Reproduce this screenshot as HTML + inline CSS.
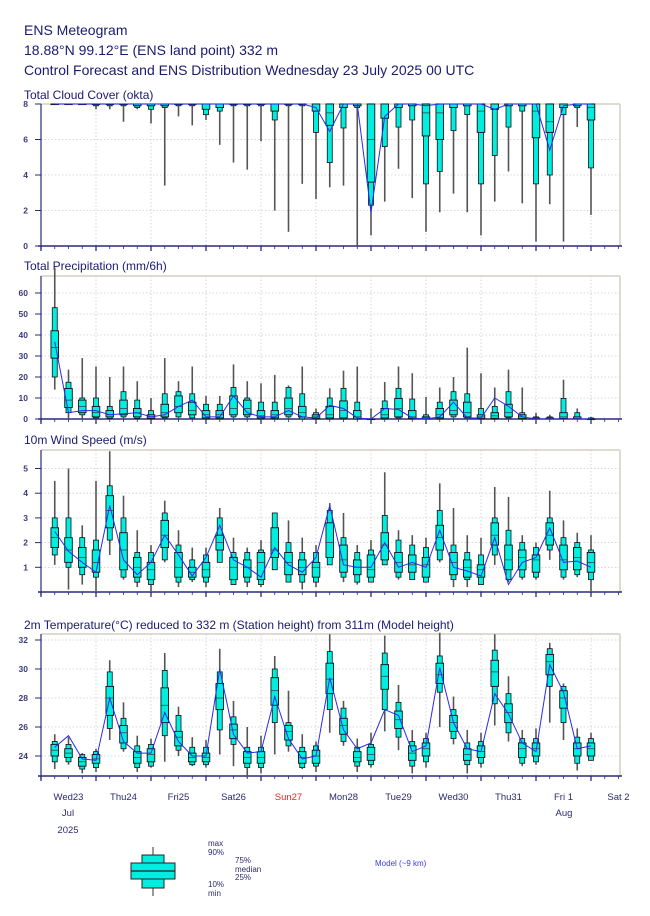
<!DOCTYPE html>
<html><head><meta charset="utf-8"><style>
body{margin:0;background:#fff;}
svg{display:block;font-family:"Liberation Sans",sans-serif;}
</style></head><body>
<svg id="c" width="650" height="916" viewBox="0 0 650 916">
<g fill="#1a1a6e" font-size="14">
<text x="24" y="35">ENS Meteogram</text>
<text x="24" y="55">18.88°N 99.12°E (ENS land point) 332 m</text>
<text x="24" y="75">Control Forecast and ENS Distribution Wednesday 23 July 2025 00 UTC</text>
</g>
<g id="panels"></g>
<g id="xlabels" font-size="9.5" fill="#2a2a6e" text-anchor="middle"></g>
<g>
<line x1="153" y1="847" x2="153" y2="896" stroke="#777" stroke-width="1.5"/>
<rect x="142" y="855" width="22" height="33" fill="#00eee0" stroke="#222" stroke-width="1"/>
<rect x="131" y="863" width="44" height="16" fill="#00eee0" stroke="#222" stroke-width="1"/>
<line x1="131" y1="871" x2="175" y2="871" stroke="#222" stroke-width="1.2"/>
<g font-size="8" fill="#2a2a6e">
<text x="208" y="846">max</text><text x="208" y="855">90%</text>
<text x="235" y="863">75%</text><text x="235" y="872">median</text><text x="235" y="880">25%</text>
<text x="208" y="887">10%</text><text x="208" y="896">min</text>
</g>
<text x="375" y="866" font-size="8" fill="#3a3af0">Model (~9 km)</text>
</g>
</svg>
<script>
const steps = Array.from({length:40},(_,i)=>i+1);
// Cloud cover
const cloudMin=[8,8,8,7.7,7.7,7.0,7.7,6.9,3.4,7.3,6.8,7.1,5.7,4.7,4.3,5.9,2.0,0.8,3.5,2.65,3.3,3.4,0,0.6,2.5,4.35,2.7,0.8,1.9,2.95,1.9,0.6,2.5,4.2,2.4,0.25,2.35,0.25,6.7,1.75];
const cloudP10=[8,8,8,7.9,7.9,7.9,7.8,7.7,7.8,7.9,7.9,7.4,7.6,7.9,7.9,7.9,7.1,7.9,7.9,6.4,4.7,6.65,7.8,2.3,5.6,6.7,7.1,3.5,4.2,6.5,7.4,3.5,5.1,6.7,7.6,3.5,4.0,7.4,7.8,4.4];
const cloudP25=[8,8,8,8,8,8,7.9,7.9,7.9,8,8,7.7,7.8,8,8,8,7.6,8,8,7.6,6.8,7.8,7.9,3.6,7.2,7.8,7.9,6.2,6.0,7.8,7.9,6.4,7.7,7.9,7.9,6.1,6.4,7.8,7.9,7.1];
const cloudMed=[8,8,8,8,8,8,8,8,8,8,8,8,8,8,8,8,8,8,8,8,7.5,8,8,6,8,8,8,7.5,7.5,8,8,7.6,8,8,8,7.6,7,8,8,7.8];
const cloudP75=steps.map(()=>8), cloudP90=steps.map(()=>8), cloudMax=steps.map(()=>8);
const cloudCtrl=[8,8,8,8,8,8,8,8,8,8,8,8,8,8,8,8,8,8,8,7.8,6.45,8,8,1.9,7.3,8,8,7.9,8,8,8,8,7.7,8,8,8,5.4,7.9,8,8];
// Precipitation
const precMin=[14,0,0,0,0,0,0,0,0,0,0,0,0,0,0,0,0,0,0,0,0,0,0,0,0,0,0,0,0,0,0,0,0,0,0,0,0,0,0,0];
const precP10=[20,3,2,0.5,0.3,1,0.3,0,0.5,1,0.5,0,0,1,1,0,0,1,0,0,0,0,0,0,0,0.5,0,0,0,1,0.5,0,0,0.5,0,0,0,0,0,0];
const precP25=[29,5.5,3,1,1,2,1,0.3,1,3,2,0.5,0.5,2,2,0.5,0.5,2,1,0.3,0.5,0.5,0,0,0.5,1,0.3,0,0.5,2,1,0.2,0.3,1,0.2,0,0,0.3,0,0];
const precMed=[34,9,6,3,2,5,3,1,3,6,4,2,2,5,5,1.5,2,5,3,1,2,4,1,0,2,5,1,0.5,2,4,3,1,1.5,3,1,0.3,0.3,1,0.3,0];
const precP75=[42,14.5,9,6,4,9,5,2,7,11,8,4,4,11,9,4,4,10,6,2,6,8.6,4,0,5,9.8,4,1,5,9,8,2,3,7,2,0.5,0.5,3,1,0];
const precP90=[53,17.5,10,10,6,13,9,4,12,13,12,7,7,15,10,8,8,15,12,3,10,14.6,8,0,8.6,14.6,9.5,2,8,13,12,5,6,13,3,1,1,9.8,3,0.5];
const precMax=[72,23.5,29,25,20,25,18,10,29,18,25,11,11,26,18,17,21,16,25,5,14.6,23,25,5,17.6,25,21.8,10.5,15,20,34,21.8,15,23.5,15,3,2,18.7,5,1];
const precCtrl=[36.7,3,4,4,2,2.5,3,1,2,6,9,1,1,11,3,1,1,4,1,0.5,6.5,5,0.5,0,5,4.5,0.5,0,1,8,0.5,0.5,10,6,1,0,0,0,0,0];
// Wind
const windMin=[1.1,0.1,0.3,0.0,1.5,0.5,0.2,0.0,1.2,0.2,0.4,0.2,1.2,0.3,0.2,0.2,1.3,0.5,0.1,0.2,1.4,0.4,0.3,0.4,1.1,0.5,0.5,0.4,1.2,0.2,0.2,0.3,1.1,0.4,0.5,0.5,1.3,0.5,0.6,0.0];
const windP10=[1.5,1.0,0.7,0.6,2.1,0.6,0.4,0.3,1.3,0.4,0.5,0.4,1.2,0.3,0.4,0.3,0.9,0.4,0.4,0.4,1.1,0.6,0.4,0.4,1.1,0.6,0.5,0.4,1.3,0.5,0.5,0.3,1.5,0.5,0.6,0.6,1.7,0.6,0.7,0.5];
const windP25=[1.8,1.2,1.0,0.8,2.6,0.9,0.6,0.5,1.8,0.6,0.6,0.6,1.7,0.5,0.6,0.5,1.4,0.7,0.7,0.6,1.4,0.8,0.7,0.6,1.3,0.8,0.8,0.6,1.7,0.7,0.6,0.6,1.9,0.9,0.9,0.8,1.9,0.9,0.9,0.8];
const windMed=[2.2,1.7,1.4,1.2,3.3,1.7,1.0,0.9,2.3,1.0,0.8,0.9,2.0,1.0,1.0,1.2,1.7,1.2,1.0,1.0,2.0,1.3,1.0,0.9,1.9,1.2,1.1,1.1,2.2,1.2,1.0,0.9,2.3,1.3,1.4,1.3,2.3,1.3,1.4,1.2];
const windP75=[2.6,2.2,1.8,1.7,3.9,2.4,1.4,1.2,2.9,1.6,1.0,1.2,2.3,1.4,1.3,1.6,2.6,1.6,1.3,1.2,2.8,1.9,1.3,1.5,2.4,1.6,1.5,1.4,2.7,1.6,1.3,1.1,2.8,1.9,1.7,1.5,2.8,1.9,1.8,1.6];
const windP90=[3.0,3.0,2.2,2.1,4.3,3.0,1.6,1.6,3.2,1.9,1.3,1.5,3.0,1.6,1.6,1.7,3.2,2.0,1.6,1.6,3.3,2.2,1.6,1.7,3.1,2.1,1.9,1.8,3.3,1.9,1.6,1.5,3.0,2.5,2.0,1.8,3.0,2.2,2.0,1.7];
const windMax=[4.5,5.0,2.7,4.5,5.7,3.9,2.5,1.9,3.7,2.5,1.8,1.8,3.4,2.2,1.8,2.1,3.0,2.9,2.2,1.9,3.6,3.2,1.9,2.1,4.85,2.5,2.3,2.2,4.4,3.4,2.3,2.2,4.25,3.85,2.3,2.0,4.1,2.9,2.4,2.3];
const windCtrl=[2.45,1.65,1.2,0.8,3.5,1.3,0.7,1.2,2.3,1.5,0.65,1.4,2.7,1.3,1.0,0.6,1.8,1.1,0.8,1.4,3.5,1.1,1.0,1.0,2.0,1.0,1.2,1.0,2.5,1.0,0.85,0.65,2.2,0.3,1.2,1.4,2.6,1.2,1.25,1.0];
// Temperature
const tMin=[23.1,23.4,22.8,22.9,25.1,24.3,22.9,23.2,23.6,24.0,23.3,23.2,24.1,23.3,22.5,22.8,24.1,24.3,23.1,22.9,25.6,24.7,22.9,23.2,25.7,24.4,22.8,23.2,26.0,24.8,22.8,23.2,26.1,25.0,23.3,23.4,26.3,25.1,23.0,23.8];
const tP10=[23.6,23.6,23.1,23.2,25.9,24.5,23.2,23.3,25.4,24.4,23.4,23.4,25.8,24.8,23.2,23.2,26.3,24.7,23.2,23.3,27.2,25.0,23.3,23.4,27.2,25.3,23.3,23.6,28.4,25.2,23.4,23.5,27.6,25.6,23.5,23.6,28.8,26.3,23.5,23.7];
const tP25=[24.0,23.9,23.3,23.5,26.8,24.9,23.5,23.6,26.3,24.7,23.6,23.6,27.2,25.2,23.5,23.5,27.5,25.1,23.5,23.5,28.3,25.5,23.6,23.7,28.6,25.9,23.7,24.0,29.0,25.7,23.7,23.9,28.8,26.3,23.9,24.0,29.6,27.3,24.0,24.0];
const tMed=[24.4,24.2,23.6,23.8,28.0,25.6,23.9,24.1,27.5,25.3,23.9,23.9,28.0,25.8,23.9,23.9,28.5,25.7,23.9,24.0,29.3,26.1,23.9,24.1,29.5,26.5,24.2,24.5,29.6,26.3,24.1,24.3,29.8,27.0,24.5,24.5,30.5,28.0,24.5,24.5];
const tP75=[24.8,24.5,23.9,24.1,28.8,26.1,24.3,24.5,28.7,25.7,24.2,24.2,29.0,26.2,24.3,24.3,29.4,26.1,24.3,24.4,30.4,26.6,24.3,24.6,30.3,27.1,24.7,24.9,30.4,26.8,24.5,24.7,30.6,27.6,24.9,24.9,31.0,28.5,24.9,24.9];
const tP90=[25.0,24.8,24.1,24.3,29.8,26.6,24.7,24.8,29.9,26.8,24.6,24.6,29.8,26.7,24.6,24.6,30.0,26.3,24.6,24.7,31.2,27.3,24.6,24.8,31.1,27.7,25.0,25.2,30.9,27.2,24.9,25.0,31.3,28.3,25.2,25.2,31.4,28.8,25.3,25.2];
const tMax=[25.5,25.3,24.2,24.5,30.6,27.7,25.4,25.2,31.1,27.4,25.3,25.1,31.4,27.8,26.0,25.4,30.9,28.5,25.5,25.0,32.4,27.8,25.2,25.6,32.3,28.9,25.8,25.6,32.5,28.1,25.8,25.6,32.4,29.5,25.8,25.9,31.8,29.0,25.9,25.6];
const tCtrl=[24.6,25.4,23.8,23.7,28.0,25.0,24.2,24.2,27.0,25.0,24.0,24.0,30.0,25.5,24.2,24.3,28.1,25.2,23.8,24.0,29.4,25.8,24.5,24.9,27.2,26.8,24.3,24.7,30.1,26.3,24.5,24.3,28.3,26.9,24.9,24.3,30.3,28.4,24.5,24.7];
const dayLabels=["Wed23","Thu24","Fri25","Sat26","Sun27","Mon28","Tue29","Wed30","Thu31","Fri 1","Sat 2"];
const cloudTicks=[0,2,4,6,8], precTicks=[0,10,20,30,40,50,60], windTicks=[1,2,3,4,5], tempTicks=[24,26,28,30,32];

const NS="http://www.w3.org/2000/svg";
const X0=41, DX=13.75, XR=620;
const xs=k=>X0+DX*k;
function el(tag,attrs,parent){const e=document.createElementNS(NS,tag);for(const a in attrs)e.setAttribute(a,attrs[a]);parent.appendChild(e);return e;}
const panels=document.getElementById('panels');
function panel(name,title,titleY,top,bottom,vmin,vmax,ticks,stats,ctrl){
  const g=el('g',{},panels);
  
  
  const y=v=>bottom-(v-vmin)/(vmax-vmin)*(bottom-top);
  const t=el('text',{x:24,y:titleY,'font-size':12,fill:'#1a1a6e'},g);
  
  
  t.textContent=title;
  // grid
  for(let d=1;d<=10;d++){el('line',{x1:X0+55*d,x2:X0+55*d,y1:top,y2:bottom,stroke:'#ccc','stroke-dasharray':'1.5,2','stroke-width':0.8},g);}
  ticks.forEach(v=>{
    el('line',{x1:X0,x2:XR,y1:y(v),y2:y(v),stroke:'#ccc','stroke-dasharray':'1.5,2','stroke-width':0.8},g);
    el('line',{x1:X0-6,x2:X0,y1:y(v),y2:y(v),stroke:'#2a2a7a','stroke-width':1},g);
    const tl=el('text',{x:X0-13,y:y(v)+3,'font-size':8.5,'font-weight':'bold',fill:'#3a3a7a','text-anchor':'end'},g);
    
    
    tl.textContent=v;
  });
  // frame
  el('line',{x1:X0,x2:XR,y1:top,y2:top,stroke:'#d4d0c4','stroke-width':1.5},g);
  el('line',{x1:XR,x2:XR,y1:top,y2:bottom,stroke:'#d4d0c4','stroke-width':1.5},g);
  el('line',{x1:X0,x2:X0,y1:top,y2:bottom+3,stroke:'#2a2a7a','stroke-width':1.2},g);
  el('line',{x1:X0-3,x2:XR+2,y1:bottom,y2:bottom,stroke:'#2a2a7a','stroke-width':1.5},g);
  for(let k=0;k<=42;k++){const maj=k%4===0;el('line',{x1:xs(k),x2:xs(k),y1:bottom,y2:bottom+(maj?5:3),stroke:'#2a2a7a','stroke-width':maj?1.3:0.8},g);}
  const [mn,p10,p25,md,p75,p90,mx]=stats;
  steps.forEach((k,i)=>{
    const x=xs(k);
    const w=el('line',{x1:x,x2:x,y1:y(mx[i]),y2:y(mn[i]),stroke:'#555','stroke-width':1.6},g);
    
    
    const nb=el('rect',{x:x-2.5,y:y(p90[i]),width:5,height:Math.max(0.6,y(p10[i])-y(p90[i])),fill:'#00eee0',stroke:'#111','stroke-width':0.8},g);
    
    
    const wb=el('rect',{x:x-3.8,y:y(p75[i]),width:7.6,height:Math.max(0.6,y(p25[i])-y(p75[i])),fill:'#00eee0',stroke:'#111','stroke-width':0.9},g);
    
    
    const ml=el('line',{x1:x-3.8,x2:x+3.8,y1:y(md[i]),y2:y(md[i]),stroke:'#333','stroke-width':0.7},g);
    
    
  });
  const pl=el('polyline',{points:steps.map((k,i)=>xs(k)+','+y(ctrl[i])).join(' '),fill:'none',stroke:'#2a2aee','stroke-width':1},g);
  
  
}
panel('cloud','Total Cloud Cover (okta)',99,104,246,0,8,cloudTicks,[cloudMin,cloudP10,cloudP25,cloudMed,cloudP75,cloudP90,cloudMax],cloudCtrl);
panel('precip','Total Precipitation (mm/6h)',270,276,419,0,(419-276)/2.1,precTicks,[precMin,precP10,precP25,precMed,precP75,precP90,precMax],precCtrl);
panel('wind','10m Wind Speed (m/s)',444,450,592,0,(592-450)/24.7,windTicks,[windMin,windP10,windP25,windMed,windP75,windP90,windMax],windCtrl);
panel('temp','2m Temperature(°C) reduced to 332 m (Station height) from 311m (Model height)',629,634,776,24-(776-756)/14.5,24+(756-634)/14.5,tempTicks,[tMin,tP10,tP25,tMed,tP75,tP90,tMax],tCtrl);
const xl=document.getElementById('xlabels');
dayLabels.forEach((d,i)=>{
  const t=el('text',{x:X0+27.5+55*i,y:800,fill:i===4?'#ee2222':'#2a2a6e'},xl);
  
  
  t.textContent=d;
});
[["Jul",68,816],["2025",68,833],["Aug",564,816]].forEach(a=>{
  const t=el('text',{x:a[1],y:a[2]},xl);
  
  
  t.textContent=a[0];
});
</script>
</body></html>
